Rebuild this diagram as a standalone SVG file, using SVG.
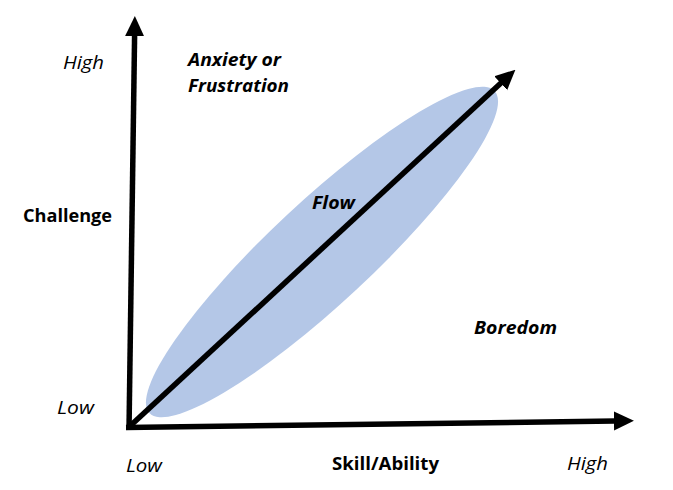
<svg xmlns="http://www.w3.org/2000/svg" width="673" height="490" viewBox="0 0 673 490">
<style>
text{font-family:"Open Sans","Liberation Sans",sans-serif;font-size:18px;fill:#000}
.b{font-weight:bold}
.i{font-style:italic}
.ax{stroke:#000;stroke-width:5.5;fill:none;marker-end:url(#ah)}
</style>
<defs>
<marker id="ah" markerUnits="userSpaceOnUse" markerWidth="20" markerHeight="20" viewBox="0 0 19 18" refX="1" refY="9" orient="auto">
<path d="M0,0 L19,9 L0,18 Z" fill="#000"/>
</marker>
</defs>
<rect width="673" height="490" fill="#fff"/>
<g id="flow-region">
<ellipse cx="322" cy="252" rx="236" ry="51" transform="rotate(-43 322 252)" fill="#B4C7E7"/>
</g>
<g id="connectors">
<line class="ax" x1="129" y1="430" x2="134.6" y2="35"/>
<line class="ax" x1="126" y1="427.5" x2="615" y2="421"/>
<line class="ax" x1="129" y1="427" x2="501.5" y2="82.5"/>
</g>
<g id="label-high-y"><text class="i" x="63" y="69" textLength="41" lengthAdjust="spacingAndGlyphs">High</text></g>
<g id="label-low-y"><text class="i" x="57" y="414" textLength="37" lengthAdjust="spacingAndGlyphs">Low</text></g>
<g id="label-challenge"><text class="b" x="23" y="222" textLength="89" lengthAdjust="spacingAndGlyphs">Challenge</text></g>
<g id="label-anxiety"><text class="b i" x="188" y="66" textLength="93" lengthAdjust="spacingAndGlyphs">Anxiety or</text><text class="b i" x="188" y="92" textLength="101" lengthAdjust="spacingAndGlyphs">Frustration</text></g>
<g id="label-flow"><text class="b i" x="312" y="209" textLength="43" lengthAdjust="spacingAndGlyphs">Flow</text></g>
<g id="label-boredom"><text class="b i" x="474" y="334" textLength="83" lengthAdjust="spacingAndGlyphs">Boredom</text></g>
<g id="label-low-x"><text class="i" x="126" y="472" textLength="36" lengthAdjust="spacingAndGlyphs">Low</text></g>
<g id="label-skill"><text class="b" x="332" y="470" textLength="107" lengthAdjust="spacingAndGlyphs">Skill/Ability</text></g>
<g id="label-high-x"><text class="i" x="567" y="470" textLength="41" lengthAdjust="spacingAndGlyphs">High</text></g>
</svg>
